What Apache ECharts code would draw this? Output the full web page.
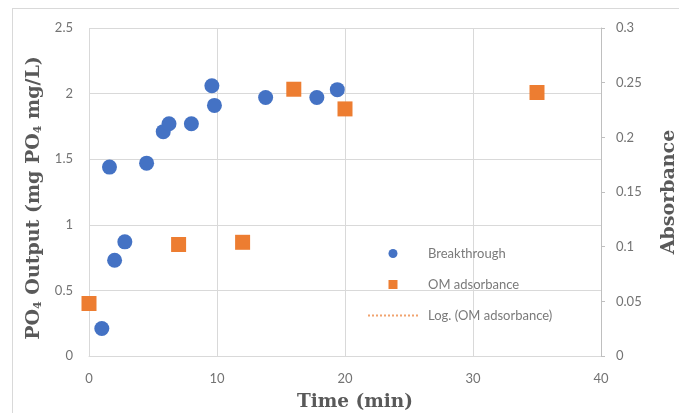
<!DOCTYPE html>
<html>
<head>
<meta charset="utf-8">
<script src="https://cdn.jsdelivr.net/npm/echarts@6/dist/echarts.min.js"></script>
<style>
  html, body { margin: 0; padding: 0; background: #fff; }
  .frame {
    position: absolute; left: 12px; top: 8px; width: 700px; height: 420px;
    border-left: 1px solid #d9d9d9; border-top: 1px solid #d9d9d9;
  }
  #chart { position: absolute; left: 0; top: 0; width: 679px; height: 413px; }
</style>
</head>
<body>
<div class="frame"></div>
<div id="chart"></div>
<script>
// Breakthrough (left axis, mg PO4/L)
var breakX = [1, 1.6, 2, 2.8, 4.5, 5.8, 6.25, 8, 9.6, 9.8, 13.8, 17.8, 19.4]
var breakY = [0.21, 1.44, 0.73, 0.87, 1.47, 1.71, 1.77, 1.77, 2.06, 1.91, 1.97, 1.97, 2.03]
// OM adsorbance (right axis)
var omX = [0, 7, 12, 16, 20, 35]
var omY = [0.048, 0.102, 0.104, 0.244, 0.226, 0.241]

var seriesNames = ['Breakthrough', 'OM adsorbance', 'Log. (OM adsorbance)']

function pairs(xs, ys) {
  var out = []
  for (var i = 0; i < xs.length; i++) out.push([xs[i], ys[i]])
  return out
}

var labelFont = 'Lato, "Open Sans", sans-serif'
var titleFont = '"DejaVu Serif", serif'
var grey = '#737373'

var myChart = echarts.init(document.getElementById('chart'))
myChart.setOption({
  animation: false,
  backgroundColor: 'transparent',
  grid: { left: 89, right: 78, top: 28, bottom: 57, outerBoundsMode: 'none', containLabel: false },
  legend: {
    orient: 'vertical',
    left: 367,
    top: 247,
    padding: 0,
    itemWidth: 50,
    itemHeight: 9,
    itemGap: 18,
    data: [
      { name: seriesNames[0], icon: 'circle' },
      { name: seriesNames[1], icon: 'path://M0,0h10v10h-10z' },
      { name: seriesNames[2], itemStyle: { opacity: 0, color: 'rgba(0,0,0,0)' } }
    ],
    textStyle: { color: '#7a7a7a', fontSize: 13, fontFamily: labelFont, padding: [0, 0, 0, 5] }
  },
  xAxis: {
    type: 'value',
    min: 0, max: 40, interval: 10,
    name: 'Time (min)',
    nameLocation: 'middle',
    nameGap: 37,
    nameTextStyle: { color: '#595959', fontSize: 18.5, fontWeight: 'bold', fontFamily: titleFont, padding: [0, 0, 0, 20] },
    axisLine: { show: true, lineStyle: { color: '#d9d9d9' } },
    axisTick: { show: false },
    axisLabel: { color: grey, fontSize: 13, fontFamily: labelFont, margin: 16 },
    splitLine: { lineStyle: { color: '#d9d9d9' } }
  },
  yAxis: [{
    type: 'value',
    min: 0, max: 2.5, interval: 0.5,
    name: '{b|PO}{s|4}{b| Output (mg PO}{s|4}{b| mg/L)}',
    nameLocation: 'middle',
    nameRotate: 90,
    nameGap: 43,
    nameTextStyle: {
      padding: [0, 12, 0, 0],
      rich: {
        b: { color: '#595959', fontSize: 19, fontWeight: 'bold', fontFamily: titleFont },
        s: { color: '#595959', fontSize: 11, fontWeight: 'bold', fontFamily: titleFont, verticalAlign: 'bottom', padding: [9, 0, 0, 0] }
      }
    },
    axisLine: { show: false },
    axisTick: { show: false },
    axisLabel: { color: grey, fontSize: 13, fontFamily: labelFont, margin: 16 },
    splitLine: { lineStyle: { color: '#d9d9d9' } }
  }, {
    type: 'value',
    min: 0, max: 0.3, interval: 0.05,
    position: 'right',
    name: 'Absorbance',
    nameLocation: 'middle',
    nameRotate: 90,
    nameGap: 59,
    nameTextStyle: { color: '#595959', fontSize: 19, fontWeight: 'bold', fontFamily: titleFont },
    axisLine: { show: true, lineStyle: { color: '#bfbfbf' } },
    axisTick: { show: true, length: 4, lineStyle: { color: '#bfbfbf' } },
    axisLabel: { color: grey, fontSize: 13, fontFamily: labelFont, margin: 15 },
    splitLine: { show: false }
  }],
  series: [{
    name: seriesNames[0],
    type: 'scatter',
    symbol: 'circle',
    symbolSize: 15,
    itemStyle: { color: '#4472c4', opacity: 1 },
    data: pairs(breakX, breakY)
  }, {
    name: seriesNames[1],
    type: 'scatter',
    yAxisIndex: 1,
    symbol: 'rect',
    symbolSize: 15,
    itemStyle: { color: '#ed7d31', opacity: 1 },
    data: pairs(omX, omY)
  }, {
    name: seriesNames[2],
    type: 'line',
    yAxisIndex: 1,
    symbol: 'none',
    itemStyle: { color: '#ed7d31' },
    lineStyle: { color: '#f1a36f', type: 'dotted', width: 1.2 },
    data: []
  }]
})
window.addEventListener('resize', function() {
  myChart.resize()
})
</script>
</body>
</html>
